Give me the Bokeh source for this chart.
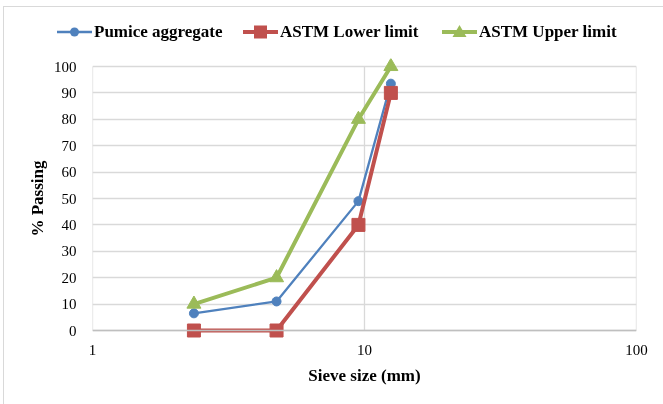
from bokeh.plotting import figure
from bokeh.layouts import column
from bokeh.models import FixedTicker, Range1d, Div, Span
from bokeh.embed import file_html
from bokeh.resources import INLINE

sieve = [2.36, 4.75, 9.5, 12.5]
pumice = [6.5, 11, 49, 93.5]
lower = [0, 0, 40, 90]
upper = [10, 20, 80, 100]
y_ticks = list(range(0, 101, 10))
x_ticks = [1, 10, 100]
names = ["Pumice aggregate", "ASTM Lower limit", "ASTM Upper limit"]

FONT = "Liberation Serif"
blue, red, green = "#4F81BD", "#C0504D", "#9BBB59"
styles = [
    dict(color=blue, lw=2.3, marker="circle", size=9),
    dict(color=red, lw=4, marker="square", size=13),
    dict(color=green, lw=4, marker="triangle", size=14),
]

LEG_H = 42
PAD = 8                      # extra frame pixels so end markers are not clipped
PX_PER_UNIT = 264 / 100.0
pad_u = PAD / PX_PER_UNIT
y_lo, y_hi = y_ticks[0], y_ticks[-1]

p = figure(width=663, height=404 - LEG_H, x_axis_type="log", output_backend="svg",
           toolbar_location=None, x_range=Range1d(x_ticks[0], x_ticks[-1]),
           y_range=Range1d(y_lo - pad_u, y_hi + pad_u),
           min_border_left=92, min_border_right=27, min_border_top=66 - LEG_H - PAD,
           min_border_bottom=74 - PAD)
p.outline_line_color = None
p.border_fill_alpha = 0

grid_col = "#D9D9D9"
p.xgrid.visible = False
p.ygrid.ticker = FixedTicker(ticks=y_ticks)
p.ygrid.grid_line_color = grid_col
p.ygrid.grid_line_width = 1.3
# vertical grid lines only between 0 and 100 %
p.segment(x0=x_ticks, y0=[y_lo] * len(x_ticks), x1=x_ticks, y1=[y_hi] * len(x_ticks),
          line_color=grid_col, line_width=1.3, level="underlay")
p.add_layout(Span(location=y_lo, dimension="width", line_color="#BFBFBF", line_width=1.3))

p.xaxis.ticker = FixedTicker(ticks=x_ticks)
p.yaxis.ticker = FixedTicker(ticks=y_ticks)
p.xaxis.major_label_overrides = {1: "1", 10: "10", 100: "100"}
for ax in (p.xaxis, p.yaxis):
    ax.axis_line_color = None
    ax.major_tick_line_color = None
    ax.minor_tick_line_color = None
    ax.major_label_text_font = FONT
    ax.major_label_text_font_size = "15px"
    ax.major_label_text_color = "black"
    ax.axis_label_text_font = FONT
    ax.axis_label_text_font_style = "bold"
    ax.axis_label_text_font_size = "17px"
    ax.axis_label_text_color = "black"
p.xaxis.axis_label = "Sieve size (mm)"
p.yaxis.axis_label = "% Passing"
p.xaxis.major_label_standoff = 0
p.yaxis.major_label_standoff = 10
p.xaxis.axis_label_standoff = 8
p.yaxis.axis_label_standoff = 4

for vals, st in zip([pumice, lower, upper], styles):
    p.line(sieve, vals, line_color=st["color"], line_width=st["lw"])
    p.scatter(sieve, vals, marker=st["marker"], size=st["size"],
              fill_color=st["color"], line_color=st["color"])

# legend strip above the chart (HTML)
def swatch(st):
    c = st["color"]
    line = f'<line x1="0" y1="10" x2="35" y2="10" stroke="{c}" stroke-width="{st["lw"]}"/>'
    if st["marker"] == "circle":
        m = f'<circle cx="17.5" cy="10" r="4.5" fill="{c}"/>'
    elif st["marker"] == "square":
        m = f'<rect x="11" y="3.5" width="13" height="13" fill="{c}"/>'
    else:
        m = f'<polygon points="17.5,3 24.5,15 10.5,15" fill="{c}"/>'
    return f'<svg width="35" height="20" style="display:block">{line}{m}</svg>'

item_left = [57, 243, 442]
parts = []
for name, st, left in zip(names, styles, item_left):
    parts.append(
        f'<div style="position:absolute; left:{left}px; top:22px; height:20px; '
        f'display:flex; align-items:center; white-space:nowrap;">'
        f'{swatch(st)}<span style="margin-left:2px; font-family:\'{FONT}\'; '
        f'font-weight:bold; font-size:17px; color:black; line-height:20px;">{name}</span></div>'
    )
html = ('<div style="position:relative; width:663px; height:%dpx;">' % LEG_H
        + '<div style="position:fixed; left:3px; top:6px; width:720px; height:460px; '
          'border:1.5px solid #D9D9D9; pointer-events:none;"></div>'
        + "".join(parts) + '</div>')
leg = Div(text=html, width=663, height=LEG_H, margin=(0, 0, 0, 0))

layout = column(leg, p, spacing=0)
open("out.html", "w").write(file_html(layout, INLINE))
